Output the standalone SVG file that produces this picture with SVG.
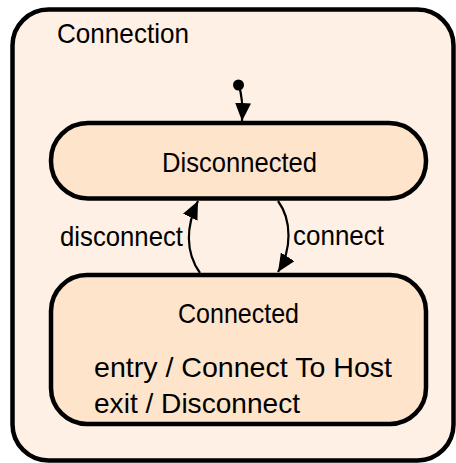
<svg xmlns="http://www.w3.org/2000/svg" width="456" height="463" viewBox="0 0 456 463">
  <style>
    .state { fill: #fde4cb; stroke: #000; stroke-width: 4.5; }
    .composite { fill: #fef0e4; stroke: #000; stroke-width: 4.5; }
    .edge { fill: none; stroke: #000; stroke-width: 2.2; }
    .label { font-family: "Liberation Sans", "DejaVu Sans", sans-serif; font-size: 28px; fill: #000; }
  </style>
  <defs>
    <marker id="head" viewBox="0 0 18 16" refX="18" refY="8" markerWidth="18" markerHeight="16" markerUnits="userSpaceOnUse" orient="auto">
      <path d="M0,0 L18,8 L0,16 z" fill="#000"/>
    </marker>
  </defs>

  <g id="connection">
    <rect class="composite" x="12.5" y="9.5" width="441" height="451" rx="36" ry="36"/>
    <text class="label" x="57" y="43" textLength="132" lengthAdjust="spacingAndGlyphs">Connection</text>
  </g>

  <g id="initial">
    <circle cx="238.5" cy="85" r="5.5" fill="#000"/>
  </g>

  <g id="disconnected">
    <rect class="state" x="51" y="123" width="375" height="75.5" rx="37" ry="37"/>
    <text class="label" x="239.5" y="172" text-anchor="middle" textLength="155" lengthAdjust="spacingAndGlyphs">Disconnected</text>
  </g>

  <g id="connected">
    <rect class="state" x="51" y="275" width="375" height="149" rx="36" ry="36"/>
    <text class="label" x="238.5" y="323" text-anchor="middle" textLength="121" lengthAdjust="spacingAndGlyphs">Connected</text>
    <text class="label" x="94" y="377" textLength="298" lengthAdjust="spacingAndGlyphs">entry / Connect To Host</text>
    <text class="label" x="94" y="413" textLength="206" lengthAdjust="spacingAndGlyphs">exit / Disconnect</text>
  </g>

  <g id="connectors">
    <path class="edge" d="M238.5,85 C242,94 243,104 242,121" marker-end="url(#head)"/>
    <path class="edge" d="M200,273 C185,252 186,226 198,201" marker-end="url(#head)"/>
    <text class="label" x="183" y="246" text-anchor="end" textLength="123" lengthAdjust="spacingAndGlyphs">disconnect</text>
    <path class="edge" d="M278,201 C292,220 292,250 278,272" marker-end="url(#head)"/>
    <text class="label" x="293" y="245" textLength="91" lengthAdjust="spacingAndGlyphs">connect</text>
  </g>
</svg>
